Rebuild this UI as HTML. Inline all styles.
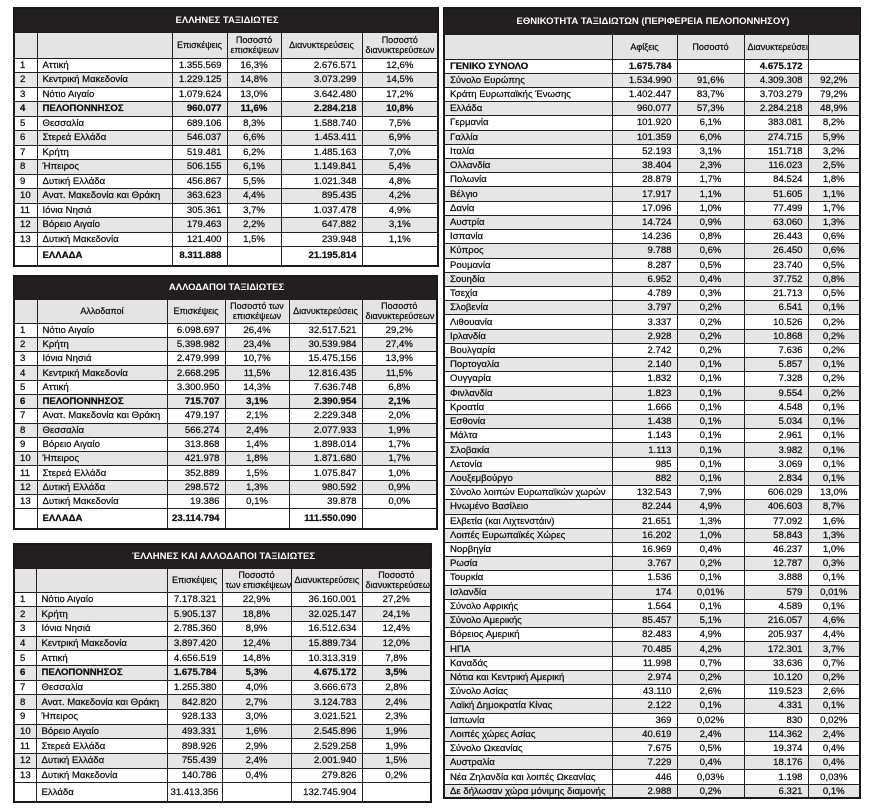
<!DOCTYPE html>
<html><head><meta charset="utf-8">
<style>
body{margin:0;width:869px;height:811px;background:#fff;position:relative;overflow:hidden;font-family:"Liberation Sans","DejaVu Sans",sans-serif;color:#111}
table{position:absolute;border-collapse:collapse;table-layout:fixed;border:2px solid #1a1a1a;font-size:9.6px;-webkit-text-stroke:0.25px #111}
td{border:1px solid #222;padding:0 3px;white-space:nowrap;overflow:hidden;line-height:11px}
td:first-child{padding-left:5px}
tr.t td{background:#231f20;color:#fff;font-weight:bold;text-align:center;font-size:9.5px;border-color:#231f20;-webkit-text-stroke:0}
tr.h td{background:#e4e4e4;text-align:center;font-size:9px;line-height:10px}
tr.g td{background:#e6e6e6}
tr.b td{font-weight:bold}
td.r{text-align:right;padding-right:5px}
td.c{text-align:center}
td.n{padding-left:5px}
</style></head><body>

<table style="left:13px;top:7px;width:424px">
<colgroup><col style="width:23px"><col style="width:135px"><col style="width:55px"><col style="width:54px"><col style="width:81px"><col style="width:76px"></colgroup>
<tr class="t" style="height:24px"><td colspan="6">ΕΛΛΗΝΕΣ ΤΑΞΙΔΙΩΤΕΣ</td></tr>
<tr class="h" style="height:26px"><td></td><td></td><td>Επισκέψεις</td><td>Ποσοστό<br>επισκέψεων</td><td>Διανυκτερεύσεις</td><td>Ποσοστό<br>διανυκτερεύσεων</td></tr>
<tr style="height:14.5px"><td>1</td><td class="n">Αττική</td><td class="r">1.355.569</td><td class="c">16,3%</td><td class="r">2.676.571</td><td class="c">12,6%</td></tr>
<tr class="g" style="height:14.5px"><td>2</td><td class="n">Κεντρική Μακεδονία</td><td class="r">1.229.125</td><td class="c">14,8%</td><td class="r">3.073.299</td><td class="c">14,5%</td></tr>
<tr style="height:14.5px"><td>3</td><td class="n">Νότιο Αιγαίο</td><td class="r">1.079.624</td><td class="c">13,0%</td><td class="r">3.642.480</td><td class="c">17,2%</td></tr>
<tr class="g b" style="height:14.5px"><td>4</td><td class="n">ΠΕΛΟΠΟΝΝΗΣΟΣ</td><td class="r">960.077</td><td class="c">11,6%</td><td class="r">2.284.218</td><td class="c">10,8%</td></tr>
<tr style="height:14.5px"><td>5</td><td class="n">Θεσσαλία</td><td class="r">689.106</td><td class="c">8,3%</td><td class="r">1.588.740</td><td class="c">7,5%</td></tr>
<tr class="g" style="height:14.5px"><td>6</td><td class="n">Στερεά Ελλάδα</td><td class="r">546.037</td><td class="c">6,6%</td><td class="r">1.453.411</td><td class="c">6,9%</td></tr>
<tr style="height:14.5px"><td>7</td><td class="n">Κρήτη</td><td class="r">519.481</td><td class="c">6,2%</td><td class="r">1.485.163</td><td class="c">7,0%</td></tr>
<tr class="g" style="height:14.5px"><td>8</td><td class="n">Ήπειρος</td><td class="r">506.155</td><td class="c">6,1%</td><td class="r">1.149.841</td><td class="c">5,4%</td></tr>
<tr style="height:14.5px"><td>9</td><td class="n">Δυτική Ελλάδα</td><td class="r">456.867</td><td class="c">5,5%</td><td class="r">1.021.348</td><td class="c">4,8%</td></tr>
<tr class="g" style="height:14.5px"><td>10</td><td class="n">Ανατ. Μακεδονία και Θράκη</td><td class="r">363.623</td><td class="c">4,4%</td><td class="r">895.435</td><td class="c">4,2%</td></tr>
<tr style="height:14.5px"><td>11</td><td class="n">Ιόνια Νησιά</td><td class="r">305.361</td><td class="c">3,7%</td><td class="r">1.037.478</td><td class="c">4,9%</td></tr>
<tr class="g" style="height:14.5px"><td>12</td><td class="n">Βόρειο Αιγαίο</td><td class="r">179.463</td><td class="c">2,2%</td><td class="r">647.882</td><td class="c">3,1%</td></tr>
<tr style="height:14.5px"><td>13</td><td class="n">Δυτική Μακεδονία</td><td class="r">121.400</td><td class="c">1,5%</td><td class="r">239.948</td><td class="c">1,1%</td></tr>
<tr class="b" style="height:19px"><td></td><td class="n">ΕΛΛΑΔΑ</td><td class="r">8.311.888</td><td></td><td class="r">21.195.814</td><td></td></tr>
</table>

<table style="left:13px;top:275px;width:423px">
<colgroup><col style="width:23px"><col style="width:130px"><col style="width:58px"><col style="width:64px"><col style="width:73px"><col style="width:75px"></colgroup>
<tr class="t" style="height:23px"><td colspan="6">ΑΛΛΟΔΑΠΟΙ ΤΑΞΙΔΙΩΤΕΣ</td></tr>
<tr class="h" style="height:24px"><td></td><td>Αλλοδαποί</td><td>Επισκέψεις</td><td>Ποσοστό των<br>επισκέψεων</td><td>Διανυκτερεύσεις</td><td>Ποσοστό<br>διανυκτερεύσεων</td></tr>
<tr style="height:14.3px"><td>1</td><td class="n">Νότιο Αιγαίο</td><td class="r">6.098.697</td><td class="c">26,4%</td><td class="r">32.517.521</td><td class="c">29,2%</td></tr>
<tr class="g" style="height:14.3px"><td>2</td><td class="n">Κρήτη</td><td class="r">5.398.982</td><td class="c">23,4%</td><td class="r">30.539.984</td><td class="c">27,4%</td></tr>
<tr style="height:14.3px"><td>3</td><td class="n">Ιόνια Νησιά</td><td class="r">2.479.999</td><td class="c">10,7%</td><td class="r">15.475.156</td><td class="c">13,9%</td></tr>
<tr class="g" style="height:14.3px"><td>4</td><td class="n">Κεντρική Μακεδονία</td><td class="r">2.668.295</td><td class="c">11,5%</td><td class="r">12.816.435</td><td class="c">11,5%</td></tr>
<tr style="height:14.3px"><td>5</td><td class="n">Αττική</td><td class="r">3.300.950</td><td class="c">14,3%</td><td class="r">7.636.748</td><td class="c">6,8%</td></tr>
<tr class="g b" style="height:14.3px"><td>6</td><td class="n">ΠΕΛΟΠΟΝΝΗΣΟΣ</td><td class="r">715.707</td><td class="c">3,1%</td><td class="r">2.390.954</td><td class="c">2,1%</td></tr>
<tr style="height:14.3px"><td>7</td><td class="n">Ανατ. Μακεδονία και Θράκη</td><td class="r">479.197</td><td class="c">2,1%</td><td class="r">2.229.348</td><td class="c">2,0%</td></tr>
<tr class="g" style="height:14.3px"><td>8</td><td class="n">Θεσσαλία</td><td class="r">566.274</td><td class="c">2,4%</td><td class="r">2.077.933</td><td class="c">1,9%</td></tr>
<tr style="height:14.3px"><td>9</td><td class="n">Βόρειο Αιγαίο</td><td class="r">313.868</td><td class="c">1,4%</td><td class="r">1.898.014</td><td class="c">1,7%</td></tr>
<tr class="g" style="height:14.3px"><td>10</td><td class="n">Ήπειρος</td><td class="r">421.978</td><td class="c">1,8%</td><td class="r">1.871.680</td><td class="c">1,7%</td></tr>
<tr style="height:14.3px"><td>11</td><td class="n">Στερεά Ελλάδα</td><td class="r">352.889</td><td class="c">1,5%</td><td class="r">1.075.847</td><td class="c">1,0%</td></tr>
<tr class="g" style="height:14.3px"><td>12</td><td class="n">Δυτική Ελλάδα</td><td class="r">298.572</td><td class="c">1,3%</td><td class="r">980.592</td><td class="c">0,9%</td></tr>
<tr style="height:14.3px"><td>13</td><td class="n">Δυτική Μακεδονία</td><td class="r">19.386</td><td class="c">0,1%</td><td class="r">39.878</td><td class="c">0,0%</td></tr>
<tr class="b" style="height:20px"><td></td><td class="n">ΕΛΛΑΔΑ</td><td class="r">23.114.794</td><td></td><td class="r">111.550.090</td><td></td></tr>
</table>

<table style="left:13px;top:543px;width:417px">
<colgroup><col style="width:22px"><col style="width:131px"><col style="width:55px"><col style="width:69px"><col style="width:71px"><col style="width:69px"></colgroup>
<tr class="t" style="height:24px"><td colspan="6">ΈΛΛΗΝΕΣ ΚΑΙ ΑΛΛΟΔΑΠΟΙ ΤΑΞΙΔΙΩΤΕΣ</td></tr>
<tr class="h" style="height:24px"><td></td><td></td><td>Επισκέψεις</td><td>Ποσοστό<br>των επισκέψεων</td><td>Διανυκτερεύσεις</td><td>Ποσοστό<br>διανυκτερεύσεων</td></tr>
<tr style="height:14.7px"><td>1</td><td class="n">Νότιο Αιγαίο</td><td class="r">7.178.321</td><td class="c">22,9%</td><td class="r">36.160.001</td><td class="c">27,2%</td></tr>
<tr class="g" style="height:14.7px"><td>2</td><td class="n">Κρήτη</td><td class="r">5.905.137</td><td class="c">18,8%</td><td class="r">32.025.147</td><td class="c">24,1%</td></tr>
<tr style="height:14.7px"><td>3</td><td class="n">Ιόνια Νησιά</td><td class="r">2.785.360</td><td class="c">8,9%</td><td class="r">16.512.634</td><td class="c">12,4%</td></tr>
<tr class="g" style="height:14.7px"><td>4</td><td class="n">Κεντρική Μακεδονία</td><td class="r">3.897.420</td><td class="c">12,4%</td><td class="r">15.889.734</td><td class="c">12,0%</td></tr>
<tr style="height:14.7px"><td>5</td><td class="n">Αττική</td><td class="r">4.656.519</td><td class="c">14,8%</td><td class="r">10.313.319</td><td class="c">7,8%</td></tr>
<tr class="g b" style="height:14.7px"><td>6</td><td class="n">ΠΕΛΟΠΟΝΝΗΣΟΣ</td><td class="r">1.675.784</td><td class="c">5,3%</td><td class="r">4.675.172</td><td class="c">3,5%</td></tr>
<tr style="height:14.7px"><td>7</td><td class="n">Θεσσαλία</td><td class="r">1.255.380</td><td class="c">4,0%</td><td class="r">3.666.673</td><td class="c">2,8%</td></tr>
<tr class="g" style="height:14.7px"><td>8</td><td class="n">Ανατ. Μακεδονία και Θράκη</td><td class="r">842.820</td><td class="c">2,7%</td><td class="r">3.124.783</td><td class="c">2,4%</td></tr>
<tr style="height:14.7px"><td>9</td><td class="n">Ήπειρος</td><td class="r">928.133</td><td class="c">3,0%</td><td class="r">3.021.521</td><td class="c">2,3%</td></tr>
<tr class="g" style="height:14.7px"><td>10</td><td class="n">Βόρειο Αιγαίο</td><td class="r">493.331</td><td class="c">1,6%</td><td class="r">2.545.896</td><td class="c">1,9%</td></tr>
<tr style="height:14.7px"><td>11</td><td class="n">Στερεά Ελλάδα</td><td class="r">898.926</td><td class="c">2,9%</td><td class="r">2.529.258</td><td class="c">1,9%</td></tr>
<tr class="g" style="height:14.7px"><td>12</td><td class="n">Δυτική Ελλάδα</td><td class="r">755.439</td><td class="c">2,4%</td><td class="r">2.001.940</td><td class="c">1,5%</td></tr>
<tr style="height:14.7px"><td>13</td><td class="n">Δυτική Μακεδονία</td><td class="r">140.786</td><td class="c">0,4%</td><td class="r">279.826</td><td class="c">0,2%</td></tr>
<tr style="height:19px"><td></td><td class="n">Ελλάδα</td><td class="r">31.413.356</td><td></td><td class="r">132.745.904</td><td></td></tr>
</table>

<table style="left:443px;top:7px;width:416px">
<colgroup><col style="width:168px"><col style="width:65px"><col style="width:67px"><col style="width:64px"><col style="width:52px"></colgroup>
<tr class="t" style="height:26px"><td colspan="5">ΕΘΝΙΚΟΤΗΤΑ ΤΑΞΙΔΙΩΤΩΝ (ΠΕΡΙΦΕΡΕΙΑ ΠΕΛΟΠΟΝΝΗΣΟΥ)</td></tr>
<tr class="h" style="height:25px"><td></td><td>Αφίξεις</td><td>Ποσοστό</td><td>Διανυκτερεύσεις</td><td></td></tr>
<tr class="b" style="height:14.23px"><td class="n">ΓΕΝΙΚΟ ΣΥΝΟΛΟ</td><td class="r">1.675.784</td><td></td><td class="r">4.675.172</td><td></td></tr>
<tr class="g" style="height:14.23px"><td class="n">Σύνολο Ευρώπης</td><td class="r">1.534.990</td><td class="c">91,6%</td><td class="r">4.309.308</td><td class="c">92,2%</td></tr>
<tr style="height:14.23px"><td class="n">Κράτη Ευρωπαϊκής Ένωσης</td><td class="r">1.402.447</td><td class="c">83,7%</td><td class="r">3.703.279</td><td class="c">79,2%</td></tr>
<tr class="g" style="height:14.23px"><td class="n">Ελλάδα</td><td class="r">960.077</td><td class="c">57,3%</td><td class="r">2.284.218</td><td class="c">48,9%</td></tr>
<tr style="height:14.23px"><td class="n">Γερμανία</td><td class="r">101.920</td><td class="c">6,1%</td><td class="r">383.081</td><td class="c">8,2%</td></tr>
<tr class="g" style="height:14.23px"><td class="n">Γαλλία</td><td class="r">101.359</td><td class="c">6,0%</td><td class="r">274.715</td><td class="c">5,9%</td></tr>
<tr style="height:14.23px"><td class="n">Ιταλία</td><td class="r">52.193</td><td class="c">3,1%</td><td class="r">151.718</td><td class="c">3,2%</td></tr>
<tr class="g" style="height:14.23px"><td class="n">Ολλανδία</td><td class="r">38.404</td><td class="c">2,3%</td><td class="r">116.023</td><td class="c">2,5%</td></tr>
<tr style="height:14.23px"><td class="n">Πολωνία</td><td class="r">28.879</td><td class="c">1,7%</td><td class="r">84.524</td><td class="c">1,8%</td></tr>
<tr class="g" style="height:14.23px"><td class="n">Βέλγιο</td><td class="r">17.917</td><td class="c">1,1%</td><td class="r">51.605</td><td class="c">1,1%</td></tr>
<tr style="height:14.23px"><td class="n">Δανία</td><td class="r">17.096</td><td class="c">1,0%</td><td class="r">77.499</td><td class="c">1,7%</td></tr>
<tr class="g" style="height:14.23px"><td class="n">Αυστρία</td><td class="r">14.724</td><td class="c">0,9%</td><td class="r">63.060</td><td class="c">1,3%</td></tr>
<tr style="height:14.23px"><td class="n">Ισπανία</td><td class="r">14.236</td><td class="c">0,8%</td><td class="r">26.443</td><td class="c">0,6%</td></tr>
<tr class="g" style="height:14.23px"><td class="n">Κύπρος</td><td class="r">9.788</td><td class="c">0,6%</td><td class="r">26.450</td><td class="c">0,6%</td></tr>
<tr style="height:14.23px"><td class="n">Ρουμανία</td><td class="r">8.287</td><td class="c">0,5%</td><td class="r">23.740</td><td class="c">0,5%</td></tr>
<tr class="g" style="height:14.23px"><td class="n">Σουηδία</td><td class="r">6.952</td><td class="c">0,4%</td><td class="r">37.752</td><td class="c">0,8%</td></tr>
<tr style="height:14.23px"><td class="n">Τσεχία</td><td class="r">4.789</td><td class="c">0,3%</td><td class="r">21.713</td><td class="c">0,5%</td></tr>
<tr class="g" style="height:14.23px"><td class="n">Σλοβενία</td><td class="r">3.797</td><td class="c">0,2%</td><td class="r">6.541</td><td class="c">0,1%</td></tr>
<tr style="height:14.23px"><td class="n">Λιθουανία</td><td class="r">3.337</td><td class="c">0,2%</td><td class="r">10.526</td><td class="c">0,2%</td></tr>
<tr class="g" style="height:14.23px"><td class="n">Ιρλανδία</td><td class="r">2.928</td><td class="c">0,2%</td><td class="r">10.868</td><td class="c">0,2%</td></tr>
<tr style="height:14.23px"><td class="n">Βουλγαρία</td><td class="r">2.742</td><td class="c">0,2%</td><td class="r">7.636</td><td class="c">0,2%</td></tr>
<tr class="g" style="height:14.23px"><td class="n">Πορτογαλία</td><td class="r">2.140</td><td class="c">0,1%</td><td class="r">5.857</td><td class="c">0,1%</td></tr>
<tr style="height:14.23px"><td class="n">Ουγγαρία</td><td class="r">1.832</td><td class="c">0,1%</td><td class="r">7.328</td><td class="c">0,2%</td></tr>
<tr class="g" style="height:14.23px"><td class="n">Φινλανδία</td><td class="r">1.823</td><td class="c">0,1%</td><td class="r">9.554</td><td class="c">0,2%</td></tr>
<tr style="height:14.23px"><td class="n">Κροατία</td><td class="r">1.666</td><td class="c">0,1%</td><td class="r">4.548</td><td class="c">0,1%</td></tr>
<tr class="g" style="height:14.23px"><td class="n">Εσθονία</td><td class="r">1.438</td><td class="c">0,1%</td><td class="r">5.034</td><td class="c">0,1%</td></tr>
<tr style="height:14.23px"><td class="n">Μάλτα</td><td class="r">1.143</td><td class="c">0,1%</td><td class="r">2.961</td><td class="c">0,1%</td></tr>
<tr class="g" style="height:14.23px"><td class="n">Σλοβακία</td><td class="r">1.113</td><td class="c">0,1%</td><td class="r">3.982</td><td class="c">0,1%</td></tr>
<tr style="height:14.23px"><td class="n">Λετονία</td><td class="r">985</td><td class="c">0,1%</td><td class="r">3.069</td><td class="c">0,1%</td></tr>
<tr class="g" style="height:14.23px"><td class="n">Λουξεμβούργο</td><td class="r">882</td><td class="c">0,1%</td><td class="r">2.834</td><td class="c">0,1%</td></tr>
<tr style="height:14.23px"><td class="n">Σύνολο λοιπών Ευρωπαϊκών χωρών</td><td class="r">132.543</td><td class="c">7,9%</td><td class="r">606.029</td><td class="c">13,0%</td></tr>
<tr class="g" style="height:14.23px"><td class="n">Ηνωμένο Βασίλειο</td><td class="r">82.244</td><td class="c">4,9%</td><td class="r">406.603</td><td class="c">8,7%</td></tr>
<tr style="height:14.23px"><td class="n">Ελβετία (και Λιχτενστάιν)</td><td class="r">21.651</td><td class="c">1,3%</td><td class="r">77.092</td><td class="c">1,6%</td></tr>
<tr class="g" style="height:14.23px"><td class="n">Λοιπές Ευρωπαϊκές Χώρες</td><td class="r">16.202</td><td class="c">1,0%</td><td class="r">58.843</td><td class="c">1,3%</td></tr>
<tr style="height:14.23px"><td class="n">Νορβηγία</td><td class="r">16.969</td><td class="c">0,4%</td><td class="r">46.237</td><td class="c">1,0%</td></tr>
<tr class="g" style="height:14.23px"><td class="n">Ρωσία</td><td class="r">3.767</td><td class="c">0,2%</td><td class="r">12.787</td><td class="c">0,3%</td></tr>
<tr style="height:14.23px"><td class="n">Τουρκία</td><td class="r">1.536</td><td class="c">0,1%</td><td class="r">3.888</td><td class="c">0,1%</td></tr>
<tr class="g" style="height:14.23px"><td class="n">Ισλανδία</td><td class="r">174</td><td class="c">0,01%</td><td class="r">579</td><td class="c">0,01%</td></tr>
<tr style="height:14.23px"><td class="n">Σύνολο Αφρικής</td><td class="r">1.564</td><td class="c">0,1%</td><td class="r">4.589</td><td class="c">0,1%</td></tr>
<tr class="g" style="height:14.23px"><td class="n">Σύνολο Αμερικής</td><td class="r">85.457</td><td class="c">5,1%</td><td class="r">216.057</td><td class="c">4,6%</td></tr>
<tr style="height:14.23px"><td class="n">Βόρειος Αμερική</td><td class="r">82.483</td><td class="c">4,9%</td><td class="r">205.937</td><td class="c">4,4%</td></tr>
<tr class="g" style="height:14.23px"><td class="n">ΗΠΑ</td><td class="r">70.485</td><td class="c">4,2%</td><td class="r">172.301</td><td class="c">3,7%</td></tr>
<tr style="height:14.23px"><td class="n">Καναδάς</td><td class="r">11.998</td><td class="c">0,7%</td><td class="r">33.636</td><td class="c">0,7%</td></tr>
<tr class="g" style="height:14.23px"><td class="n">Νότια και Κεντρική Αμερική</td><td class="r">2.974</td><td class="c">0,2%</td><td class="r">10.120</td><td class="c">0,2%</td></tr>
<tr style="height:14.23px"><td class="n">Σύνολο Ασίας</td><td class="r">43.110</td><td class="c">2,6%</td><td class="r">119.523</td><td class="c">2,6%</td></tr>
<tr class="g" style="height:14.23px"><td class="n">Λαϊκή Δημοκρατία Κίνας</td><td class="r">2.122</td><td class="c">0,1%</td><td class="r">4.331</td><td class="c">0,1%</td></tr>
<tr style="height:14.23px"><td class="n">Ιαπωνία</td><td class="r">369</td><td class="c">0,02%</td><td class="r">830</td><td class="c">0,02%</td></tr>
<tr class="g" style="height:14.23px"><td class="n">Λοιπές χώρες Ασίας</td><td class="r">40.619</td><td class="c">2,4%</td><td class="r">114.362</td><td class="c">2,4%</td></tr>
<tr style="height:14.23px"><td class="n">Σύνολο Ωκεανίας</td><td class="r">7.675</td><td class="c">0,5%</td><td class="r">19.374</td><td class="c">0,4%</td></tr>
<tr class="g" style="height:14.23px"><td class="n">Αυστραλία</td><td class="r">7.229</td><td class="c">0,4%</td><td class="r">18.176</td><td class="c">0,4%</td></tr>
<tr style="height:14.23px"><td class="n">Νέα Ζηλανδία και λοιπές Ωκεανίας</td><td class="r">446</td><td class="c">0,03%</td><td class="r">1.198</td><td class="c">0,03%</td></tr>
<tr class="g" style="height:14.23px"><td class="n">Δε δήλωσαν χώρα μόνιμης διαμονής</td><td class="r">2.988</td><td class="c">0,2%</td><td class="r">6.321</td><td class="c">0,1%</td></tr>
</table>

</body></html>
